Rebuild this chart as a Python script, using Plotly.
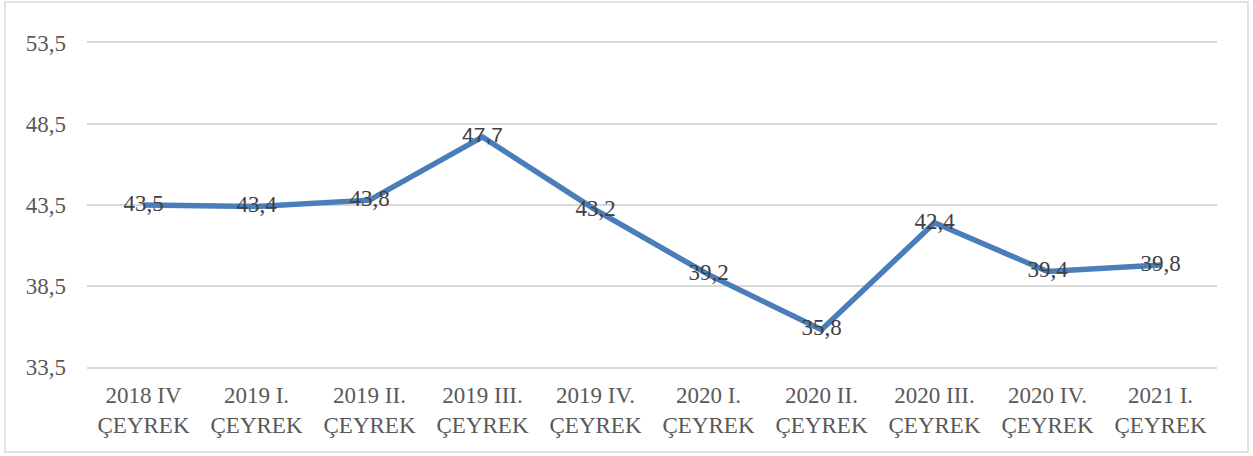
import plotly.graph_objects as go

categories = ["2018 IV<br>ÇEYREK", "2019 I.<br>ÇEYREK", "2019 II.<br>ÇEYREK", "2019 III.<br>ÇEYREK",
              "2019 IV.<br>ÇEYREK", "2020 I.<br>ÇEYREK", "2020 II.<br>ÇEYREK", "2020 III.<br>ÇEYREK",
              "2020 IV.<br>ÇEYREK", "2021 I.<br>ÇEYREK"]
values = [43.5, 43.4, 43.8, 47.7, 43.2, 39.2, 35.8, 42.4, 39.4, 39.8]
labels = [f"{v:.1f}".replace(".", ",") for v in values]
tick_vals = [33.5, 38.5, 43.5, 48.5, 53.5]
tick_text = [f"{v:.1f}".replace(".", ",") for v in tick_vals]

serif = "Liberation Serif, Times New Roman, serif"
sans = "Liberation Sans, Arial, sans-serif"
label_fonts = [sans if v == 47.7 else serif for v in values]
label_sizes = [21 if v == 47.7 else 23 for v in values]

fig = go.Figure()
fig.add_trace(go.Scatter(
    x=list(range(len(categories))), y=values, mode="lines+text",
    line=dict(color="#4a7ebb", width=5.5),
    text=labels, textposition="middle center",
    textfont=dict(family=label_fonts, size=label_sizes, color="#404040"),
    hoverinfo="skip", showlegend=False, cliponaxis=False,
))

fig.update_layout(
    width=1253, height=456,
    margin=dict(l=87, r=36, t=43, b=89),
    paper_bgcolor="white", plot_bgcolor="white",
    xaxis=dict(range=[-0.5, len(categories) - 0.5], tickmode="array",
               tickvals=list(range(len(categories))), ticktext=categories,
               showgrid=False, zeroline=False, showline=True, mirror=True,
               linecolor="#d9d9d9", linewidth=1.5, ticks="",
               ticklabelstandoff=7,
               tickfont=dict(family=serif, size=23, color="#595959")),
    yaxis=dict(range=[33.5, 53.5], tickmode="array", tickvals=tick_vals, ticktext=tick_text,
               showgrid=True, gridcolor="#d9d9d9", gridwidth=1.5, zeroline=False,
               showline=False, ticks="", ticklabelstandoff=20,
               tickfont=dict(family=serif, size=23, color="#595959")),
    shapes=[dict(type="rect", xref="paper", yref="paper",
                 x0=-0.0726, x1=1.0274, y0=-0.262, y1=1.1265,
                 line=dict(color="#d9d9d9", width=1.5), fillcolor="rgba(0,0,0,0)", layer="below")],
)

fig.write_html("out.html", config={"displayModeBar": False})
with open("out.html", "r", encoding="utf-8") as f:
    html = f.read()
html = html.replace("<head>", "<head><style>html,body{margin:0;padding:0;overflow:hidden;}</style>", 1)
with open("out.html", "w", encoding="utf-8") as f:
    f.write(html)
